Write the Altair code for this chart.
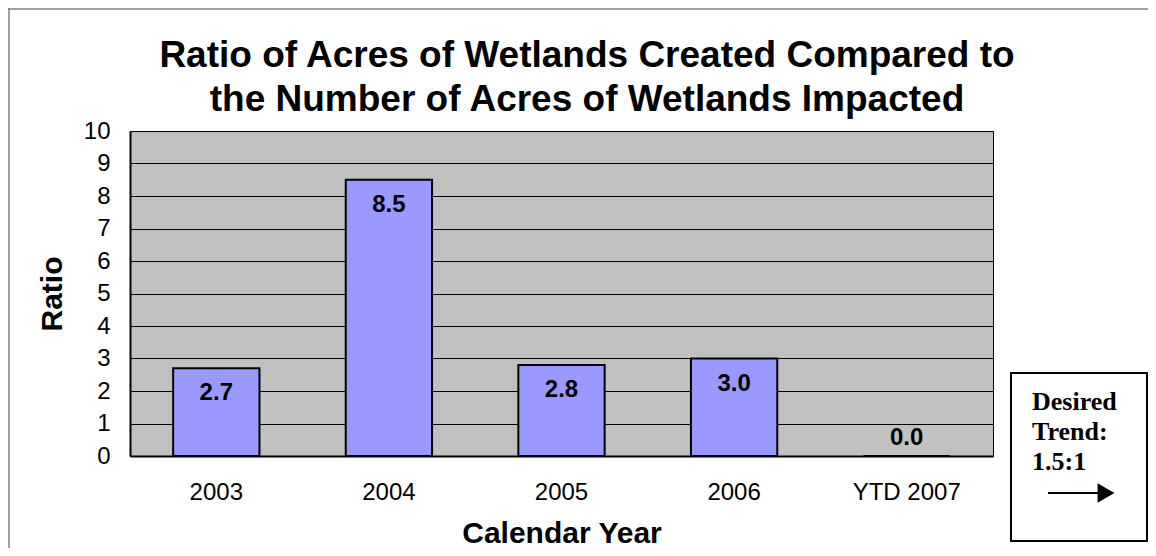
import altair as alt
import pandas as pd

years = ["2003", "2004", "2005", "2006", "YTD 2007"]
ratios = [2.7, 8.5, 2.8, 3.0, 0.0]
labels = ["2.7", "8.5", "2.8", "3.0", "0.0"]
y_ticks = [0, 1, 2, 3, 4, 5, 6, 7, 8, 9, 10]
title_lines = ["Ratio of Acres of Wetlands Created Compared to",
               "the Number of Acres of Wetlands Impacted"]
trend_lines = ["Desired", "Trend:", "1.5:1"]

df = pd.DataFrame({"year": years, "ratio": ratios, "label": labels})
anno = pd.DataFrame({"a": [0]})

FONT = "Liberation Sans"
W, H = 863, 325

base = alt.Chart(df).encode(
    x=alt.X("year:N", sort=years,
            scale=alt.Scale(paddingInner=0.5, paddingOuter=0.25),
            axis=alt.Axis(title="Calendar Year", labelAngle=0, labelFontSize=24,
                          labelFont=FONT, labelColor="black", labelPadding=24,
                          ticks=False, tickSize=0, domain=True, domainColor="black",
                          domainWidth=2, titleFontSize=30, titleFont=FONT,
                          titleFontWeight="bold", titleColor="black",
                          titleY=86, titleBaseline="alphabetic", grid=False))
)

yscale = alt.Scale(domain=[0, 10], nice=False)
yaxis = alt.Axis(title="Ratio", values=y_ticks, labelOverlap=False,
                 labelFontSize=24, labelFont=FONT,
                 labelColor="black", labelPadding=20, ticks=False, tickSize=0,
                 domain=True, domainColor="black", domainWidth=2,
                 grid=True, gridColor="black", gridWidth=1, gridOpacity=1,
                 titleFontSize=30, titleFont=FONT, titleFontWeight="bold",
                 titleColor="black", titleAngle=270, titleX=-69, titleY=H / 2,
                 titleBaseline="alphabetic", titleAlign="center")
yenc = alt.Y("ratio:Q", scale=yscale, axis=yaxis)

bars = base.mark_bar(color="#9999FF", stroke="black", strokeWidth=2).encode(y=yenc)

txt_in = base.transform_filter("datum.ratio > 0").mark_text(
    dy=25, fontSize=24, fontWeight="bold", font=FONT, color="black"
).encode(y=yenc, text="label:N")

txt_zero = base.transform_filter("datum.ratio == 0").mark_text(
    dy=-18, fontSize=24, fontWeight="bold", font=FONT, color="black"
).encode(y=yenc, text="label:N")

a = alt.Chart(anno)
title_txt = a.mark_text(align="center", baseline="alphabetic", font=FONT, fontSize=37,
                        fontWeight="bold", lineHeight=44, color="black").encode(
    x=alt.value(457), y=alt.value(-64), text=alt.value(title_lines))
border_left = a.mark_rule(color="#808080", strokeWidth=1.5).encode(
    x=alt.value(-121), y=alt.value(-123), y2=alt.value(H + 92))
border_top = a.mark_rule(color="#808080", strokeWidth=1.5).encode(
    x=alt.value(-122), x2=alt.value(W + 160), y=alt.value(-122))

box = a.mark_rect(fill="white", stroke="black", strokeWidth=2).encode(
    x=alt.value(881), x2=alt.value(1017), y=alt.value(242), y2=alt.value(410))
box_text = a.mark_text(align="left", baseline="alphabetic", font="Liberation Serif",
                       fontSize=26, fontWeight="bold", lineHeight=30, color="black").encode(
    x=alt.value(902), y=alt.value(279), text=alt.value(trend_lines))
arrow_line = a.mark_rule(color="black", strokeWidth=2).encode(
    x=alt.value(918), x2=alt.value(970), y=alt.value(362))
arrow_head = a.mark_point(shape="triangle-right", filled=True, color="black",
                          size=380, opacity=1).encode(
    x=alt.value(976), y=alt.value(362))

chart = alt.layer(
    bars, txt_in, txt_zero, title_txt, border_left, border_top, box, box_text,
    arrow_line, arrow_head
).properties(
    width=W, height=H,
    background="white",
    autosize=alt.AutoSizeParams(type="none"),
    padding={"left": 122, "top": 123, "right": 155, "bottom": 92},
).configure_view(
    fill="#C0C0C0", stroke="black", strokeWidth=1
)

chart.save("out.html", embed_options={"renderer": "svg", "actions": False})
